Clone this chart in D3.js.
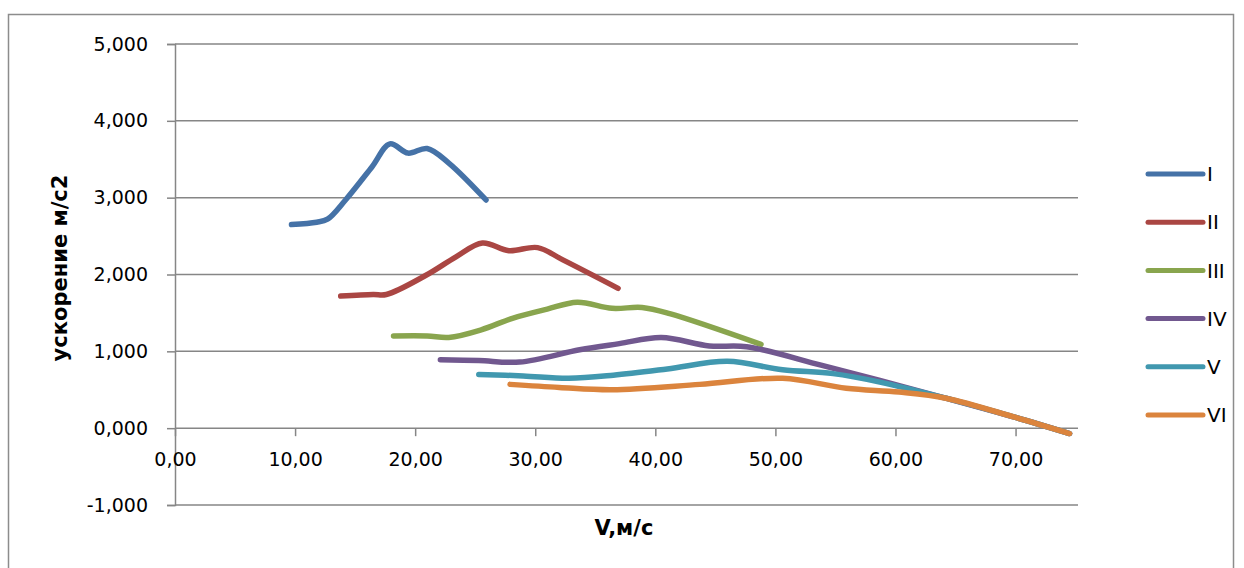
<!DOCTYPE html>
<html>
<head>
<meta charset="utf-8">
<script src="https://cdn.jsdelivr.net/npm/d3@7"></script>
<style>
  html, body { margin: 0; padding: 0; background: #ffffff; }
  svg { display: block; }
</style>
</head>
<body>
<svg id="chart" width="1244" height="568"></svg>
<script>
// ---- data ----
const seriesNames = ["I", "II", "III", "IV", "V", "VI"];
const seriesColors = ["#4572A7", "#AA4643", "#89A54E", "#71588F", "#4198AF", "#DB843D"];

const xI   = [9.7, 11.8, 12.7, 14.2, 16.4, 17.9, 19.4, 21.0, 22.8, 25.9];
const yI   = [2.65, 2.68, 2.72, 2.97, 3.40, 3.70, 3.58, 3.64, 3.45, 2.97];

const xII  = [13.8, 16.5, 17.6, 20.9, 23.4, 25.6, 27.8, 30.2, 32.3, 36.9];
const yII  = [1.72, 1.74, 1.74, 1.99, 2.23, 2.41, 2.31, 2.35, 2.19, 1.82];

const xIII = [18.2, 21.0, 22.8, 25.5, 28.1, 31.0, 33.5, 36.4, 38.9, 41.2, 48.8];
const yIII = [1.20, 1.20, 1.18, 1.28, 1.43, 1.55, 1.64, 1.56, 1.57, 1.49, 1.09];

const xIV  = [22.1, 25.3, 28.7, 33.7, 37.0, 40.5, 44.5, 47.6, 53.8, 58.7, 64.2, 70.0, 74.5];
const yIV  = [0.89, 0.88, 0.86, 1.02, 1.10, 1.18, 1.07, 1.06, 0.82, 0.62, 0.39, 0.14, -0.07];

const xV   = [25.3, 29.0, 32.8, 36.5, 41.0, 46.0, 50.6, 54.8, 58.7, 64.2, 70.0, 74.5];
const yV   = [0.70, 0.68, 0.65, 0.69, 0.77, 0.87, 0.76, 0.71, 0.60, 0.39, 0.14, -0.07];

const xVI  = [27.9, 32.0, 36.4, 43.7, 50.6, 55.9, 60.3, 64.2, 70.0, 74.5];
const yVI  = [0.57, 0.53, 0.50, 0.57, 0.65, 0.52, 0.47, 0.39, 0.14, -0.07];

const xTicks = [0, 10, 20, 30, 40, 50, 60, 70];
const yTicks = [-1, 0, 1, 2, 3, 4, 5];
const xTitle = "V,м/с";
const yTitle = "ускорение м/с2";

// ---- build ----
const seriesX = [xI, xII, xIII, xIV, xV, xVI];
const seriesY = [yI, yII, yIII, yIV, yV, yVI];
const series = seriesNames.map((name, i) => ({
  name, color: seriesColors[i],
  pts: seriesX[i].map((x, j) => ({ x, y: seriesY[i][j] }))
}));

const svg = d3.select("#chart");
const FONT = "DejaVu Sans, sans-serif";
const GRID = "#868686";

// outer chart border
svg.append("rect")
  .attr("x", 8.5).attr("y", 14.5).attr("width", 1225).attr("height", 570)
  .attr("fill", "none").attr("stroke", "#8c8c8c").attr("stroke-width", 1.5);

const x = d3.scaleLinear().domain([0, 75.2]).range([175, 1078]);
const y = d3.scaleLinear().domain([-1, 5]).range([505, 44]);

const plain = s => s.replace("\u2212", "-").replace(".", ",");
const fmtX = d => plain(d3.format(".2f")(d));
const fmtY = d => plain(d3.format(".3f")(d));

// horizontal gridlines
svg.append("g").selectAll("line").data(yTicks).join("line")
  .attr("x1", x(0)).attr("x2", x.range()[1])
  .attr("y1", d => y(d)).attr("y2", d => y(d))
  .attr("stroke", GRID).attr("stroke-width", 1.5);

// y axis
const yAxis = d3.axisLeft(y).tickValues(yTicks).tickSize(8).tickPadding(19)
  .tickFormat(fmtY);
const gy = svg.append("g").attr("transform", `translate(${x(0)},0)`).call(yAxis);
gy.select(".domain").attr("stroke", GRID).attr("stroke-width", 1.5);
gy.selectAll(".tick line").attr("stroke", GRID).attr("stroke-width", 1.5);
gy.selectAll(".tick text").attr("font-family", FONT).attr("font-size", 19).attr("fill", "#000");

// x axis at y = 0
const xAxis = d3.axisBottom(x).tickValues(xTicks).tickSize(8).tickPadding(16)
  .tickFormat(fmtX);
const gx = svg.append("g").attr("transform", `translate(0,${y(0)})`).call(xAxis);
gx.select(".domain").remove();
gx.selectAll(".tick line").attr("stroke", GRID).attr("stroke-width", 1.5);
gx.selectAll(".tick text").attr("font-family", FONT).attr("font-size", 19).attr("fill", "#000");

// axis titles
svg.append("text")
  .attr("x", 624).attr("y", 535)
  .attr("text-anchor", "middle")
  .attr("font-family", FONT).attr("font-weight", "bold").attr("font-size", 21)
  .text(xTitle);

svg.append("text")
  .attr("transform", "translate(67,268) rotate(-90)")
  .attr("text-anchor", "middle")
  .attr("font-family", FONT).attr("font-weight", "bold").attr("font-size", 21)
  .text(yTitle);

// series lines
const line = d3.line()
  .x(d => x(d.x)).y(d => y(d.y))
  .curve(d3.curveCatmullRom.alpha(0.5));

svg.append("g").selectAll("path").data(series).join("path")
  .attr("d", d => line(d.pts))
  .attr("fill", "none")
  .attr("stroke", d => d.color)
  .attr("stroke-width", 5.5)
  .attr("stroke-linecap", "round")
  .attr("stroke-linejoin", "round");

// legend
const lg = svg.append("g");
const legY = d3.scalePoint().domain(seriesNames).range([174, 415]);
const items = lg.selectAll("g").data(series).join("g")
  .attr("transform", d => `translate(0,${legY(d.name)})`);
items.append("line")
  .attr("x1", 1148).attr("x2", 1203).attr("y1", 0).attr("y2", 0)
  .attr("stroke", d => d.color).attr("stroke-width", 5).attr("stroke-linecap", "round");
items.append("text")
  .attr("x", 1207).attr("y", 0).attr("dy", "0.36em")
  .attr("font-family", FONT).attr("font-size", 20).attr("fill", "#000")
  .text(d => d.name);
</script>
</body>
</html>
